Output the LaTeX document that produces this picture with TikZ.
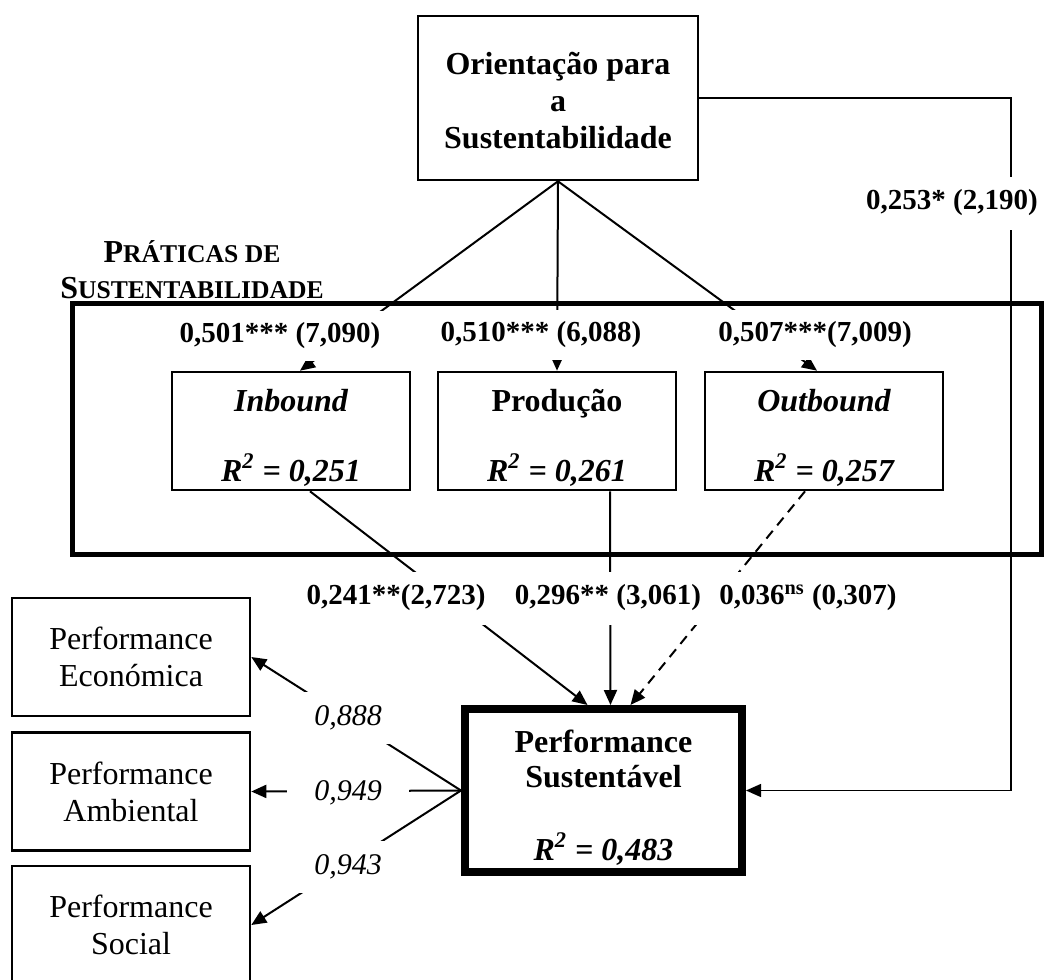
\documentclass[tikz,border=0pt]{standalone}
\usepackage{fontspec}
\setmainfont{Liberation Serif}
\usetikzlibrary{calc,arrows.meta}
\newcommand{\smallcap}[1]{{\fontsize{12.8}{18}\selectfont #1}}
\newcommand{\topgap}{\rule{0pt}{18pt}}

\begin{document}
\begin{tikzpicture}[x=0.5pt,y=-0.5pt,
  arr/.style={-{Triangle[length=7.5pt,width=6.5pt]},line width=1pt},
  box/.style={draw,line width=1.3pt,align=center,inner sep=0pt},
  coef/.style={fill=white,inner xsep=7pt,inner ysep=0pt,minimum height=25pt,font=\bfseries\fontsize{14.5}{16}\selectfont},
  load/.style={fill=white,inner sep=0pt,minimum width=61pt,minimum height=26pt,font=\itshape\fontsize{15}{17}\selectfont}]
\useasboundingbox (0,0) rectangle (1045,980);
% construtos
\node[box,minimum width=140pt,minimum height=82pt,font=\bfseries\fontsize{16}{18.5}\selectfont] (OS) at (558,98) {\rule{0pt}{14pt}Orientação para\\a\\Sustentabilidade};
\node[font=\bfseries\fontsize{16}{18}\selectfont,align=center] (PR-titulo) at (192,270) {P\smallcap{RÁTICAS DE}\\S\smallcap{USTENTABILIDADE}};
\node[box,minimum width=119pt,minimum height=59pt,font=\bfseries\itshape\fontsize{16}{17.5}\selectfont] (IN) at (291,431) {\topgap Inbound\\[17.5pt]R\textsuperscript{2} = 0,251};
\node[box,minimum width=119pt,minimum height=59pt,font=\bfseries\fontsize{16}{17.5}\selectfont] (PR) at (557,431) {\topgap Produção\\[17.5pt]\textit{R\textsuperscript{2} = 0,261}};
\node[box,minimum width=119pt,minimum height=59pt,font=\bfseries\itshape\fontsize{16}{17.5}\selectfont] (OUT) at (824,431) {\topgap Outbound\\[17.5pt]R\textsuperscript{2} = 0,257};
\node[box,line width=4pt,minimum width=138.5pt,minimum height=81.5pt,font=\bfseries\fontsize{16}{17.5}\selectfont] (PSu) at (603.5,790.5) {\topgap Performance\\Sustentável\\[19pt]\textit{R\textsuperscript{2} = 0,483}};
\node[box,minimum width=119pt,minimum height=59pt,font=\fontsize{16}{18.5}\selectfont] (EC) at (131,657) {Performance\\Económica};
\node[box,minimum width=119pt,minimum height=59pt,font=\fontsize{16}{18.5}\selectfont] (AM) at (131,791.5) {Performance\\Ambiental};
\node[box,minimum width=119pt,minimum height=59pt,font=\fontsize{16}{18.5}\selectfont] (SO) at (131,925) {Performance\\Social};
\draw[line width=2.5pt] (72,303) rectangle (1041,554);
% caminhos
\draw[arr] (OS.south) -- ($(IN.north)+(9,0)$);
\draw[arr] (OS.south) -- (PR.north);
\draw[arr] (OS.south) -- ($(OUT.north)+(-7,0)$);
\draw[arr] ($(IN.south)+(19,0)$) -- ($(PSu.north)+(-16,0)$);
\draw[arr] ($(PR.south)+(53,0)$) -- ($(PSu.north)+(7,0)$);
\draw[arr,dash pattern=on 5pt off 3.5pt] ($(OUT.south)+(-19,0)$) -- ($(PSu.north)+(27,0)$);
\coordinate (turn) at (1011,98);
\draw[arr,line width=0.7pt] (OS.east) -- (turn) |- (PSu.east);
\foreach \b in {EC,AM,SO} \draw[arr] (PSu.west) -- (\b.east);
% coeficientes
\node[coef] (c1) at (280,336) {0,501*** (7,090)};
\node[coef] (c2) at (541,335) {0,510*** (6,088)};
\node[coef] (c3) at (815,335) {0,507***(7,009)};
\node[coef,inner xsep=8pt,minimum height=26.5pt] (c4) at (396,598) {0,241**(2,723)};
\node[coef,inner xsep=8pt,minimum height=26.5pt] (c5) at (608,598) {0,296** (3,061)};
\node[coef,inner xsep=8pt,minimum height=26.5pt] (c6) at (808,598) {0,036\textsuperscript{ns} (0,307)};
\node[coef,inner xsep=3pt,minimum height=26.5pt] (c7) at (952,203) {0,253* (2,190)};
\node[load] (l1) at (348,718) {0,888};
\node[load] (l2) at (348,793) {0,949};
\node[load] (l3) at (348,867) {0,943};
\end{tikzpicture}
\end{document}
